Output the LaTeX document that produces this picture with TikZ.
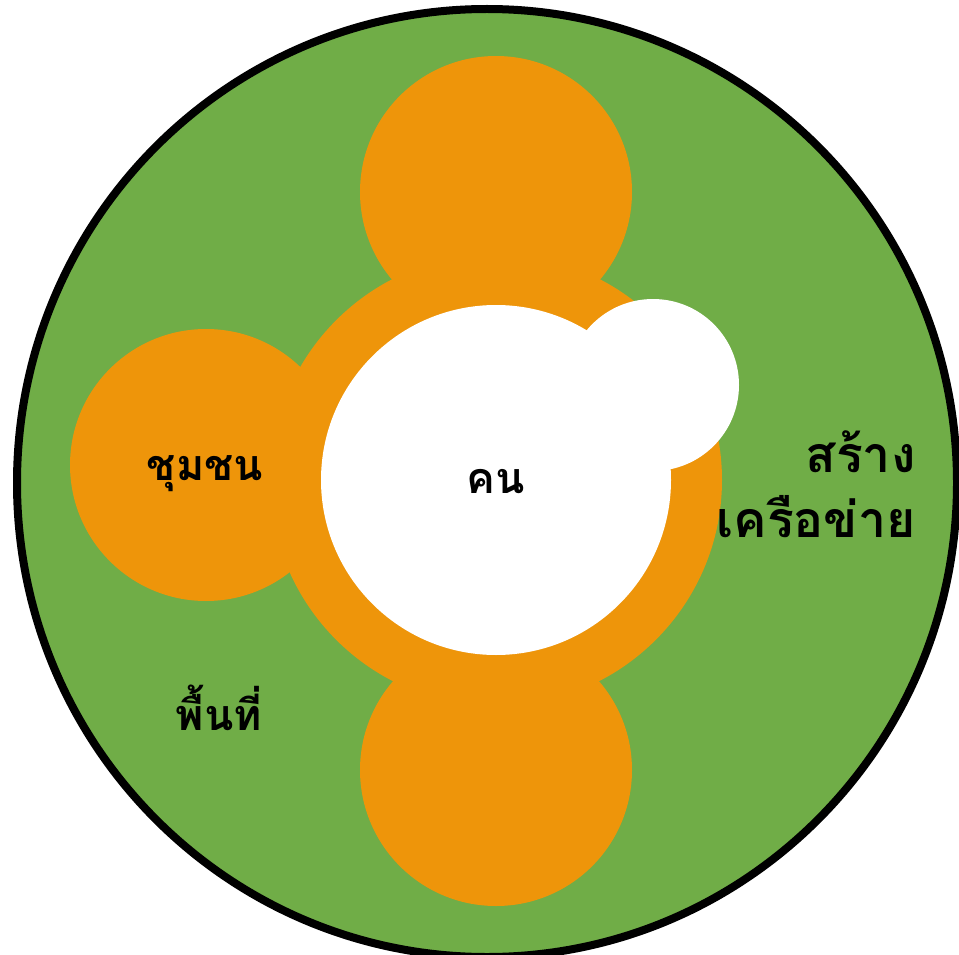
\documentclass[tikz,border=0pt]{standalone}
\usepackage{fontspec}
\newfontfamily\thaifont[Script=Thai]{Loma}
\definecolor{verde}{HTML}{70AD47}
\definecolor{arancio}{HTML}{EE950A}
\usetikzlibrary{positioning}

\begin{document}
\begin{tikzpicture}[x=1pt, y=-1pt,
  every node/.style={font=\thaifont\bfseries\fontsize{43}{47}\selectfont},
  disco/.style={circle, inner sep=0pt, fill=arancio},
  buco/.style={circle, inner sep=0pt, fill=white}
]
  \useasboundingbox (0,0) rectangle (959,955);
  % cerchio esterno
  \draw[line width=8pt, fill=verde] (487,483) ellipse [x radius=470, y radius=474];
  % cerchi arancioni
  \node[disco, minimum size=272] (alto)  at (496,192) {};
  \node[disco, minimum size=272] (basso) at (496,770) {};
  \node[disco, minimum size=272] (sx)    at (206,465) {};
  \node[disco, minimum size=452] (anello) at (496,480) {};
  % cerchi bianchi
  \node[buco, minimum size=350] (centro) at (496,480) {};
  \node[buco, minimum size=172] (piccolo) at (653,385) {};
  % testi
  \node[anchor=base] (kon) at (496,493) {คน};
  \node[anchor=base] (chumchon) at (205,480) {ชุมชน};
  \node[anchor=base] (phuenthi) at (219,730) {พื้นที่};
  \node[anchor=base east, align=right, font=\thaifont\bfseries\fontsize{50}{65}\selectfont]
    (rete) at (919,537) {สร้าง\\เครือข่าย};
\end{tikzpicture}
\end{document}
